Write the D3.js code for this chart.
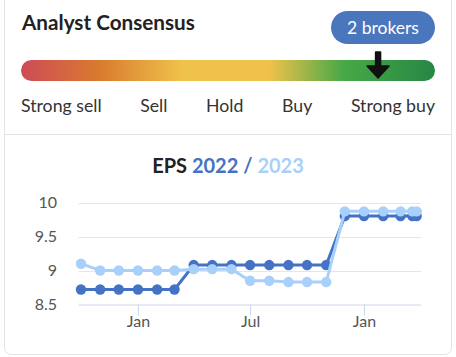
<!DOCTYPE html>
<html><head><meta charset="utf-8">
<script src="https://cdn.jsdelivr.net/npm/d3@7"></script>
<style>
html,body{margin:0;padding:0;background:#fff;}
svg{display:block;font-family:Lato,"Open Sans",sans-serif;}
</style></head>
<body>
<svg id="c" width="456" height="357"></svg>
<script>
const ratingLabels = ["Strong sell", "Sell", "Hold", "Buy", "Strong buy"];
const consensusScore = 4.45; // 1 = strong sell .. 5 = strong buy
const brokerCount = 2;
const dates = ["2021-10-01","2021-11-01","2021-12-01","2022-01-01","2022-02-01","2022-03-01",
  "2022-04-01","2022-05-01","2022-06-01","2022-07-01","2022-08-01","2022-09-01","2022-10-01",
  "2022-11-01","2022-12-01","2023-01-01","2023-02-01","2023-03-01","2023-03-20","2023-03-27"];
const eps2022 = [8.72,8.72,8.72,8.72,8.72,8.72,9.08,9.08,9.08,9.08,9.08,9.08,9.08,9.08,9.80,9.80,9.80,9.80,9.80,9.80];
const eps2023 = [9.10,9.00,9.00,9.00,9.00,9.00,9.02,9.02,9.02,8.85,8.85,8.83,8.83,8.83,9.87,9.87,9.87,9.87,9.87,9.87];
const yTicks = [8.5, 9, 9.5, 10];
const xTicks = ["2022-01-01","2022-07-01","2023-01-01"];

const parse = d3.timeParse("%Y-%m-%d");
const svg = d3.select("#c");

// card
svg.append("path")
  .attr("d", "M4.5,-10 L4.5,346.5 Q4.5,354.5 12.5,354.5 L443.5,354.5 Q451.5,354.5 451.5,346.5 L451.5,-10")
  .attr("fill","#fff").attr("stroke","#e3e3e3").attr("stroke-width",1);
svg.append("line").attr("x1",4.5).attr("x2",451.5).attr("y1",134.5).attr("y2",134.5)
  .attr("stroke","#e3e3e3");

// header
svg.append("text").attr("x",22).attr("y",30).attr("font-size",20.7).attr("font-weight",700)
  .attr("fill","#222").text("Analyst Consensus");
svg.append("rect").attr("x",331).attr("y",11).attr("width",104).attr("height",33).attr("rx",16.5)
  .attr("fill","#4a76be");
svg.append("text").attr("x",383).attr("y",33.5).attr("text-anchor","middle").attr("font-size",17.5)
  .attr("fill","#fff").text(brokerCount + " brokers");

// gradient bar
const defs = svg.append("defs");
const grad = defs.append("linearGradient").attr("id","g").attr("x1","0").attr("x2","1").attr("y1","0").attr("y2","0");
[[0,"#cd4b57"],[0.19,"#d97b2e"],[0.39,"#efc24b"],[0.6,"#efc24b"],[0.78,"#47a847"],[1,"#278744"]]
  .forEach(s=>grad.append("stop").attr("offset",s[0]).attr("stop-color",s[1]));
const barX0 = 21, barX1 = 435;
svg.append("rect").attr("x",barX0).attr("y",60).attr("width",barX1-barX0).attr("height",21).attr("rx",10.5)
  .attr("fill","url(#g)");
const rScale = d3.scaleLinear().domain([1,5]).range([barX0, barX1]);
const ax = rScale(consensusScore);
svg.append("path")
  .attr("d", `M${ax-2.5},52 L${ax+2.5},52 L${ax+2.5},66 L${ax+11},66 L${ax},78 L${ax-11},66 L${ax-2.5},66 Z`)
  .attr("fill","#111").attr("stroke","#111").attr("stroke-width",1.5).attr("stroke-linejoin","round");

// rating labels, spaced between
const lab = svg.append("g").selectAll("text").data(ratingLabels).join("text")
  .attr("y",112).attr("font-size",17.7).attr("fill","#333").text(d=>d);
const widths = lab.nodes().map(n=>n.getComputedTextLength());
const gap = ((barX1-barX0) - d3.sum(widths)) / (ratingLabels.length-1);
let cx = barX0;
lab.each(function(d,i){ d3.select(this).attr("x", cx); cx += widths[i] + gap; });

// chart title
const t = svg.append("text").attr("x",228).attr("y",173).attr("text-anchor","middle")
  .attr("font-size",20).attr("font-weight",700);
t.append("tspan").attr("fill","#222").text("EPS ");
t.append("tspan").attr("fill","#4472c4").text("2022 / ");
t.append("tspan").attr("fill","#a8d0fa").text("2023");

// scales
const x = d3.scaleTime().domain([parse("2021-09-27"), parse("2023-04-03")]).range([78.5, 421]);
const y = d3.scaleLinear().domain([8.5, 10]).range([304.5, 202.5]);

// grid
svg.append("g").selectAll("line").data(yTicks.filter(v=>v>8.5)).join("line")
  .attr("x1",78.5).attr("x2",421).attr("y1",d=>Math.round(y(d))+0.5).attr("y2",d=>Math.round(y(d))+0.5)
  .attr("stroke","#e6e6e6");

// y labels
svg.append("g").selectAll("text").data(yTicks).join("text")
  .attr("x",57).attr("y",d=>y(d)+5.5).attr("text-anchor","end").attr("font-size",16)
  .attr("fill","#555").text(d=>d3.format("~g")(d));

// x axis
const xa = svg.append("g").attr("transform","translate(0,304.5)")
  .call(d3.axisBottom(x).tickValues(xTicks.map(parse)).tickFormat(d3.timeFormat("%b")).tickSize(11).tickSizeOuter(0));
xa.select(".domain").attr("stroke","#ccd6eb").attr("d","M78.5,0.5H421");
xa.selectAll(".tick line").attr("stroke","#ccd6eb");
xa.selectAll(".tick text").attr("font-size",16).attr("fill","#555").attr("font-family","Lato").attr("dy","0.5em");

// series
const series = [{vals:eps2022,color:"#4472c4"},{vals:eps2023,color:"#a8d0fa"}];
const line = d3.line().x(d=>x(d.d)).y(d=>y(d.v));
series.forEach(s=>{
  const pts = dates.map((d,i)=>({d:parse(d), v:s.vals[i]}));
  const g = svg.append("g");
  g.append("path").datum(pts).attr("d",line).attr("fill","none").attr("stroke",s.color).attr("stroke-width",3);
  g.selectAll("circle").data(pts).join("circle").attr("cx",d=>x(d.d)).attr("cy",d=>y(d.v)).attr("r",5.2)
    .attr("fill",s.color);
});
</script>
</body></html>
